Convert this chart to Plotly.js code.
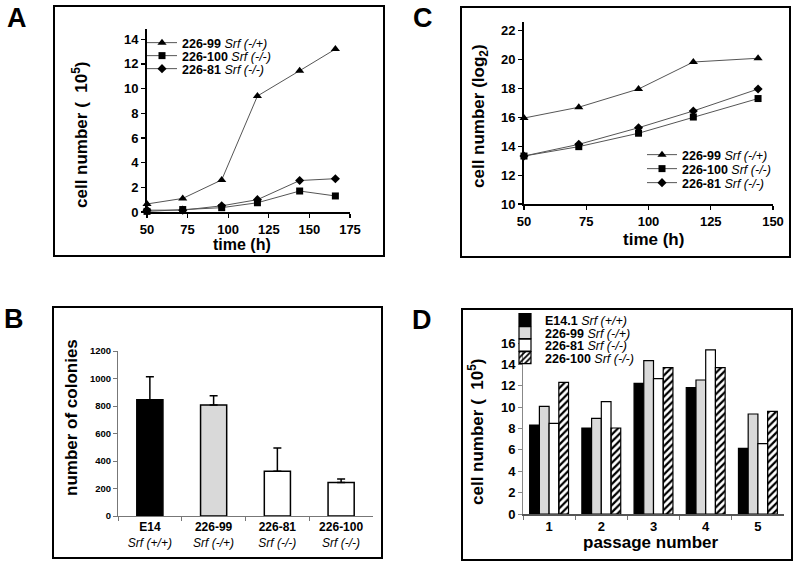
<!DOCTYPE html>
<html>
<head>
<meta charset="utf-8">
<script src="https://cdn.plot.ly/plotly-3.0.1.min.js"></script>
<style>
  html, body { margin: 0; padding: 0; background: #ffffff; }
  #chart { width: 800px; height: 574px; }
</style>
</head>
<body>
<div id="chart"></div>
<script>
// ---------------- DATA ----------------
// Panel A: cell number (x10^5) vs time
const timeA = [50, 72, 96, 118, 144, 166];
const a99  = [0.65, 1.1, 2.6, 9.4, 11.45, 13.2];
const a100 = [0.05, 0.2, 0.35, 0.75, 1.7, 1.3];
const a81  = [0.15, 0.15, 0.5, 1.0, 2.55, 2.7];

// Panel C: cell number (log2) vs time
const timeC = [50, 72, 96, 118, 144];
const c99  = [15.95, 16.7, 17.96, 19.83, 20.09];
const c100 = [13.32, 13.97, 14.9, 16.02, 17.3];
const c81  = [13.32, 14.13, 15.28, 16.44, 17.96];

// Series labels
const lineNames = ['226-99', '226-100', '226-81'];
const lineGeno  = ['Srf (-/+)', 'Srf (-/-)', 'Srf (-/-)'];

// Panel B: number of colonies
const bLines    = ['E14', '226-99', '226-81', '226-100'];
const bGeno     = ['Srf (+/+)', 'Srf (-/+)', 'Srf (-/-)', 'Srf (-/-)'];
const colonies  = [846, 807, 325, 243];
const colonyErr = [166, 68, 169, 27];

// Panel D: cell number (x10^5) per passage
const passages = ['1', '2', '3', '4', '5'];
const dNames = ['E14.1', '226-99', '226-81', '226-100'];
const dGeno  = ['Srf (+/+)', 'Srf (-/+)', 'Srf (-/-)', 'Srf (-/-)'];
const dE14 = [8.33, 8.05, 12.23, 11.82, 6.14];
const d99  = [10.07, 8.95, 14.35, 12.54, 9.36];
const d81  = [8.48, 10.51, 12.66, 15.35, 6.58];
const d100 = [12.32, 8.05, 13.69, 13.69, 9.6];

// ---------------- STYLE ----------------
const W = 800, H = 574;
const F = 'Liberation Sans, Arial, Helvetica, sans-serif';
function xd(a, b) { return [a / W, b / W]; }
function yd(top, bottom) { return [1 - bottom / H, 1 - top / H]; }
function px(x) { return x / W; }
function py(y) { return 1 - y / H; }
function label(n, g) { return '<b>' + n + '</b> <i>' + g + '</i>'; }
function leg(xp, yp) {
  return { x: px(xp), y: py(yp), xanchor: 'left', yanchor: 'middle',
           bgcolor: 'rgba(0,0,0,0)', borderwidth: 0, itemwidth: 30,
           font: { family: F, size: 12.5, color: '#000' } };
}

const lineSymbols = ['triangle-up', 'square', 'diamond'];
const lineSizes = [8, 7, 7];
const seriesA = [a99, a100, a81];
const seriesC = [c99, c100, c81];

const traces = [];
// Panel A
seriesA.forEach((s, i) => {
  traces.push({
    type: 'scatter', mode: 'lines+markers', x: timeA, y: s,
    xaxis: 'x', yaxis: 'y', name: label(lineNames[i], lineGeno[i]),
    legend: i === 0 ? 'legend' : 'legend' + (i + 1),
    line: { color: '#555', width: 1 },
    marker: { symbol: lineSymbols[i], size: lineSizes[i], color: '#000' },
    cliponaxis: false
  });
});
// Panel C
seriesC.forEach((s, i) => {
  traces.push({
    type: 'scatter', mode: 'lines+markers', x: timeC, y: s,
    xaxis: 'x2', yaxis: 'y2', name: label(lineNames[i], lineGeno[i]),
    legend: 'legend' + (i + 4),
    line: { color: '#555', width: 1 },
    marker: { symbol: lineSymbols[i], size: lineSizes[i], color: '#000' },
    cliponaxis: false
  });
});
// Panel B
traces.push({
  type: 'bar', x: bLines, y: colonies, xaxis: 'x3', yaxis: 'y3',
  width: 0.41, showlegend: false,
  marker: {
    color: ['#000000', '#d9d9d9', '#ffffff', '#ffffff'],
    line: { color: '#000', width: 1.5 },
    pattern: { shape: ['', '', '', '/'], fgcolor: '#000', size: 5, solidity: 0.45 }
  },
  error_y: { type: 'data', symmetric: false, array: colonyErr,
             arrayminus: colonyErr.map(() => 0), color: '#000', thickness: 1.5, width: 4 }
});
// Panel D
const dSeries = [dE14, d99, d81, d100];
const dColors = ['#000000', '#d9d9d9', '#ffffff', '#ffffff'];
const dPatterns = ['', '', '', '/'];
dSeries.forEach((s, i) => {
  traces.push({
    type: 'bar', x: passages, y: s, xaxis: 'x4', yaxis: 'y4',
    name: label(dNames[i], dGeno[i]), legend: 'legend' + (i + 7),
    marker: { color: dColors[i], line: { color: '#000', width: 1.2 },
              pattern: { shape: dPatterns[i], fgcolor: '#000', size: 5, solidity: 0.45 } }
  });
});

const tickBold = (sz) => ({ family: F, size: sz, color: '#000', weight: 'bold' });

const layout = {
  width: W, height: H,
  margin: { l: 0, r: 0, t: 0, b: 0 },
  paper_bgcolor: '#fff', plot_bgcolor: 'rgba(0,0,0,0)',
  font: { family: F, color: '#000' },
  barmode: 'group', bargap: 0.255, bargroupgap: 0,
  xaxis: { domain: xd(147, 350), range: [50, 175], anchor: 'y', dtick: 25, tick0: 50,
           showgrid: false, zeroline: false, showline: true, linecolor: '#000', linewidth: 2,
           ticks: 'outside', ticklen: 4, tickwidth: 1.2, tickcolor: '#000', tickfont: tickBold(13) },
  yaxis: { domain: yd(29, 212), range: [0, 14.83], anchor: 'x', dtick: 2, tick0: 0,
           showgrid: false, zeroline: false, showline: true, linecolor: '#000', linewidth: 2,
           ticks: 'outside', ticklen: 4, tickwidth: 1.2, tickcolor: '#000', tickfont: tickBold(13) },
  xaxis2: { domain: xd(524, 773), range: [50, 150], anchor: 'y2', dtick: 25, tick0: 50,
           showgrid: false, zeroline: false, showline: true, linecolor: '#000', linewidth: 2,
           ticks: 'outside', ticklen: 4, tickwidth: 1.2, tickcolor: '#000', tickfont: tickBold(13) },
  yaxis2: { domain: yd(21.7, 204), range: [10, 22.62], anchor: 'x2', dtick: 2, tick0: 10,
           showgrid: false, zeroline: false, showline: true, linecolor: '#000', linewidth: 2,
           ticks: 'outside', ticklen: 4, tickwidth: 1.2, tickcolor: '#000', tickfont: tickBold(13) },
  xaxis3: { domain: xd(118, 373), range: [-0.5, 3.5], anchor: 'y3', type: 'category',
           tickvals: bLines, ticktext: bLines.map((n, i) => '<b>' + n + '</b><br><i>' + bGeno[i] + '</i>'),
           tickson: 'boundaries', showgrid: false, zeroline: false, showline: true,
           linecolor: '#777', linewidth: 1, ticks: 'outside', ticklen: 4, tickcolor: '#777',
           tickfont: { family: F, size: 12, color: '#000' } },
  yaxis3: { domain: yd(351, 516), range: [0, 1200], anchor: 'x3', dtick: 200, tick0: 0,
           showgrid: false, zeroline: false, showline: true, linecolor: '#777', linewidth: 1,
           ticks: 'outside', ticklen: 4, tickcolor: '#777', tickfont: tickBold(9.5) },
  xaxis4: { domain: xd(523, 784), range: [-0.5, 4.5], anchor: 'y4', type: 'category',
           tickson: 'boundaries', showgrid: false, zeroline: false, showline: true,
           linecolor: '#555', linewidth: 1.5, ticks: 'outside', ticklen: 4, tickcolor: '#777',
           tickfont: tickBold(13) },
  yaxis4: { domain: yd(339.5, 514), range: [0, 16.33], anchor: 'x4', dtick: 2, tick0: 0,
           showgrid: false, zeroline: false, showline: true, linecolor: '#888', linewidth: 1,
           ticks: 'outside', ticklen: 4, tickcolor: '#888', tickfont: tickBold(13) },
  legend:  leg(142, 43),
  legend2: leg(142, 56),
  legend3: leg(142, 69),
  legend4: leg(642, 155),
  legend5: leg(642, 169),
  legend6: leg(642, 183),
  legend7: leg(505, 320),
  legend8: leg(505, 333),
  legend9: leg(505, 345.5),
  legend10: leg(505, 358),
  shapes: [
    { type: 'rect', xref: 'paper', yref: 'paper', x0: px(54), x1: px(384), y0: py(256), y1: py(6), line: { color: '#000', width: 2 } },
    { type: 'rect', xref: 'paper', yref: 'paper', x0: px(461), x1: px(790), y0: py(257), y1: py(7), line: { color: '#000', width: 2 } },
    { type: 'rect', xref: 'paper', yref: 'paper', x0: px(53), x1: px(382), y0: py(558), y1: py(307), line: { color: '#000', width: 2 } },
    { type: 'rect', xref: 'paper', yref: 'paper', x0: px(462), x1: px(792), y0: py(560), y1: py(309), line: { color: '#000', width: 2 } }
  ],
  annotations: [
    // panel letters
    { text: 'A', x: px(17), y: py(17.5), xref: 'paper', yref: 'paper', showarrow: false, xanchor: 'center', yanchor: 'middle', font: { family: F, size: 27, weight: 'bold' } },
    { text: 'C', x: px(423), y: py(17.5), xref: 'paper', yref: 'paper', showarrow: false, xanchor: 'center', yanchor: 'middle', font: { family: F, size: 27, weight: 'bold' } },
    { text: 'B', x: px(14), y: py(318.5), xref: 'paper', yref: 'paper', showarrow: false, xanchor: 'center', yanchor: 'middle', font: { family: F, size: 27, weight: 'bold' } },
    { text: 'D', x: px(422), y: py(320), xref: 'paper', yref: 'paper', showarrow: false, xanchor: 'center', yanchor: 'middle', font: { family: F, size: 27, weight: 'bold' } },
    // axis titles
    { text: 'cell number (  10<sup>5</sup>)', x: px(80), y: py(135), xref: 'paper', yref: 'paper', showarrow: false, textangle: -90, xanchor: 'center', yanchor: 'middle', font: { family: F, size: 17, weight: 'bold' } },
    { text: 'time (h)', x: px(242.5), y: py(245), xref: 'paper', yref: 'paper', showarrow: false, xanchor: 'center', yanchor: 'middle', font: { family: F, size: 16, weight: 'bold' } },
    { text: 'cell number (log<sub>2</sub>)', x: px(480), y: py(116), xref: 'paper', yref: 'paper', showarrow: false, textangle: -90, xanchor: 'center', yanchor: 'middle', font: { family: F, size: 17, weight: 'bold' } },
    { text: 'time (h)', x: px(653.5), y: py(239), xref: 'paper', yref: 'paper', showarrow: false, xanchor: 'center', yanchor: 'middle', font: { family: F, size: 17, weight: 'bold' } },
    { text: 'number of colonies', x: px(71), y: py(418), xref: 'paper', yref: 'paper', showarrow: false, textangle: -90, xanchor: 'center', yanchor: 'middle', font: { family: F, size: 17, weight: 'bold' } },
    { text: 'cell number (  10<sup>5</sup>)', x: px(476), y: py(432), xref: 'paper', yref: 'paper', showarrow: false, textangle: -90, xanchor: 'center', yanchor: 'middle', font: { family: F, size: 17, weight: 'bold' } },
    { text: 'passage number', x: px(650.5), y: py(542), xref: 'paper', yref: 'paper', showarrow: false, xanchor: 'center', yanchor: 'middle', font: { family: F, size: 17, weight: 'bold' } }
  ]
};

Plotly.newPlot('chart', traces, layout, { staticPlot: true, displayModeBar: false });
</script>
</body>
</html>
